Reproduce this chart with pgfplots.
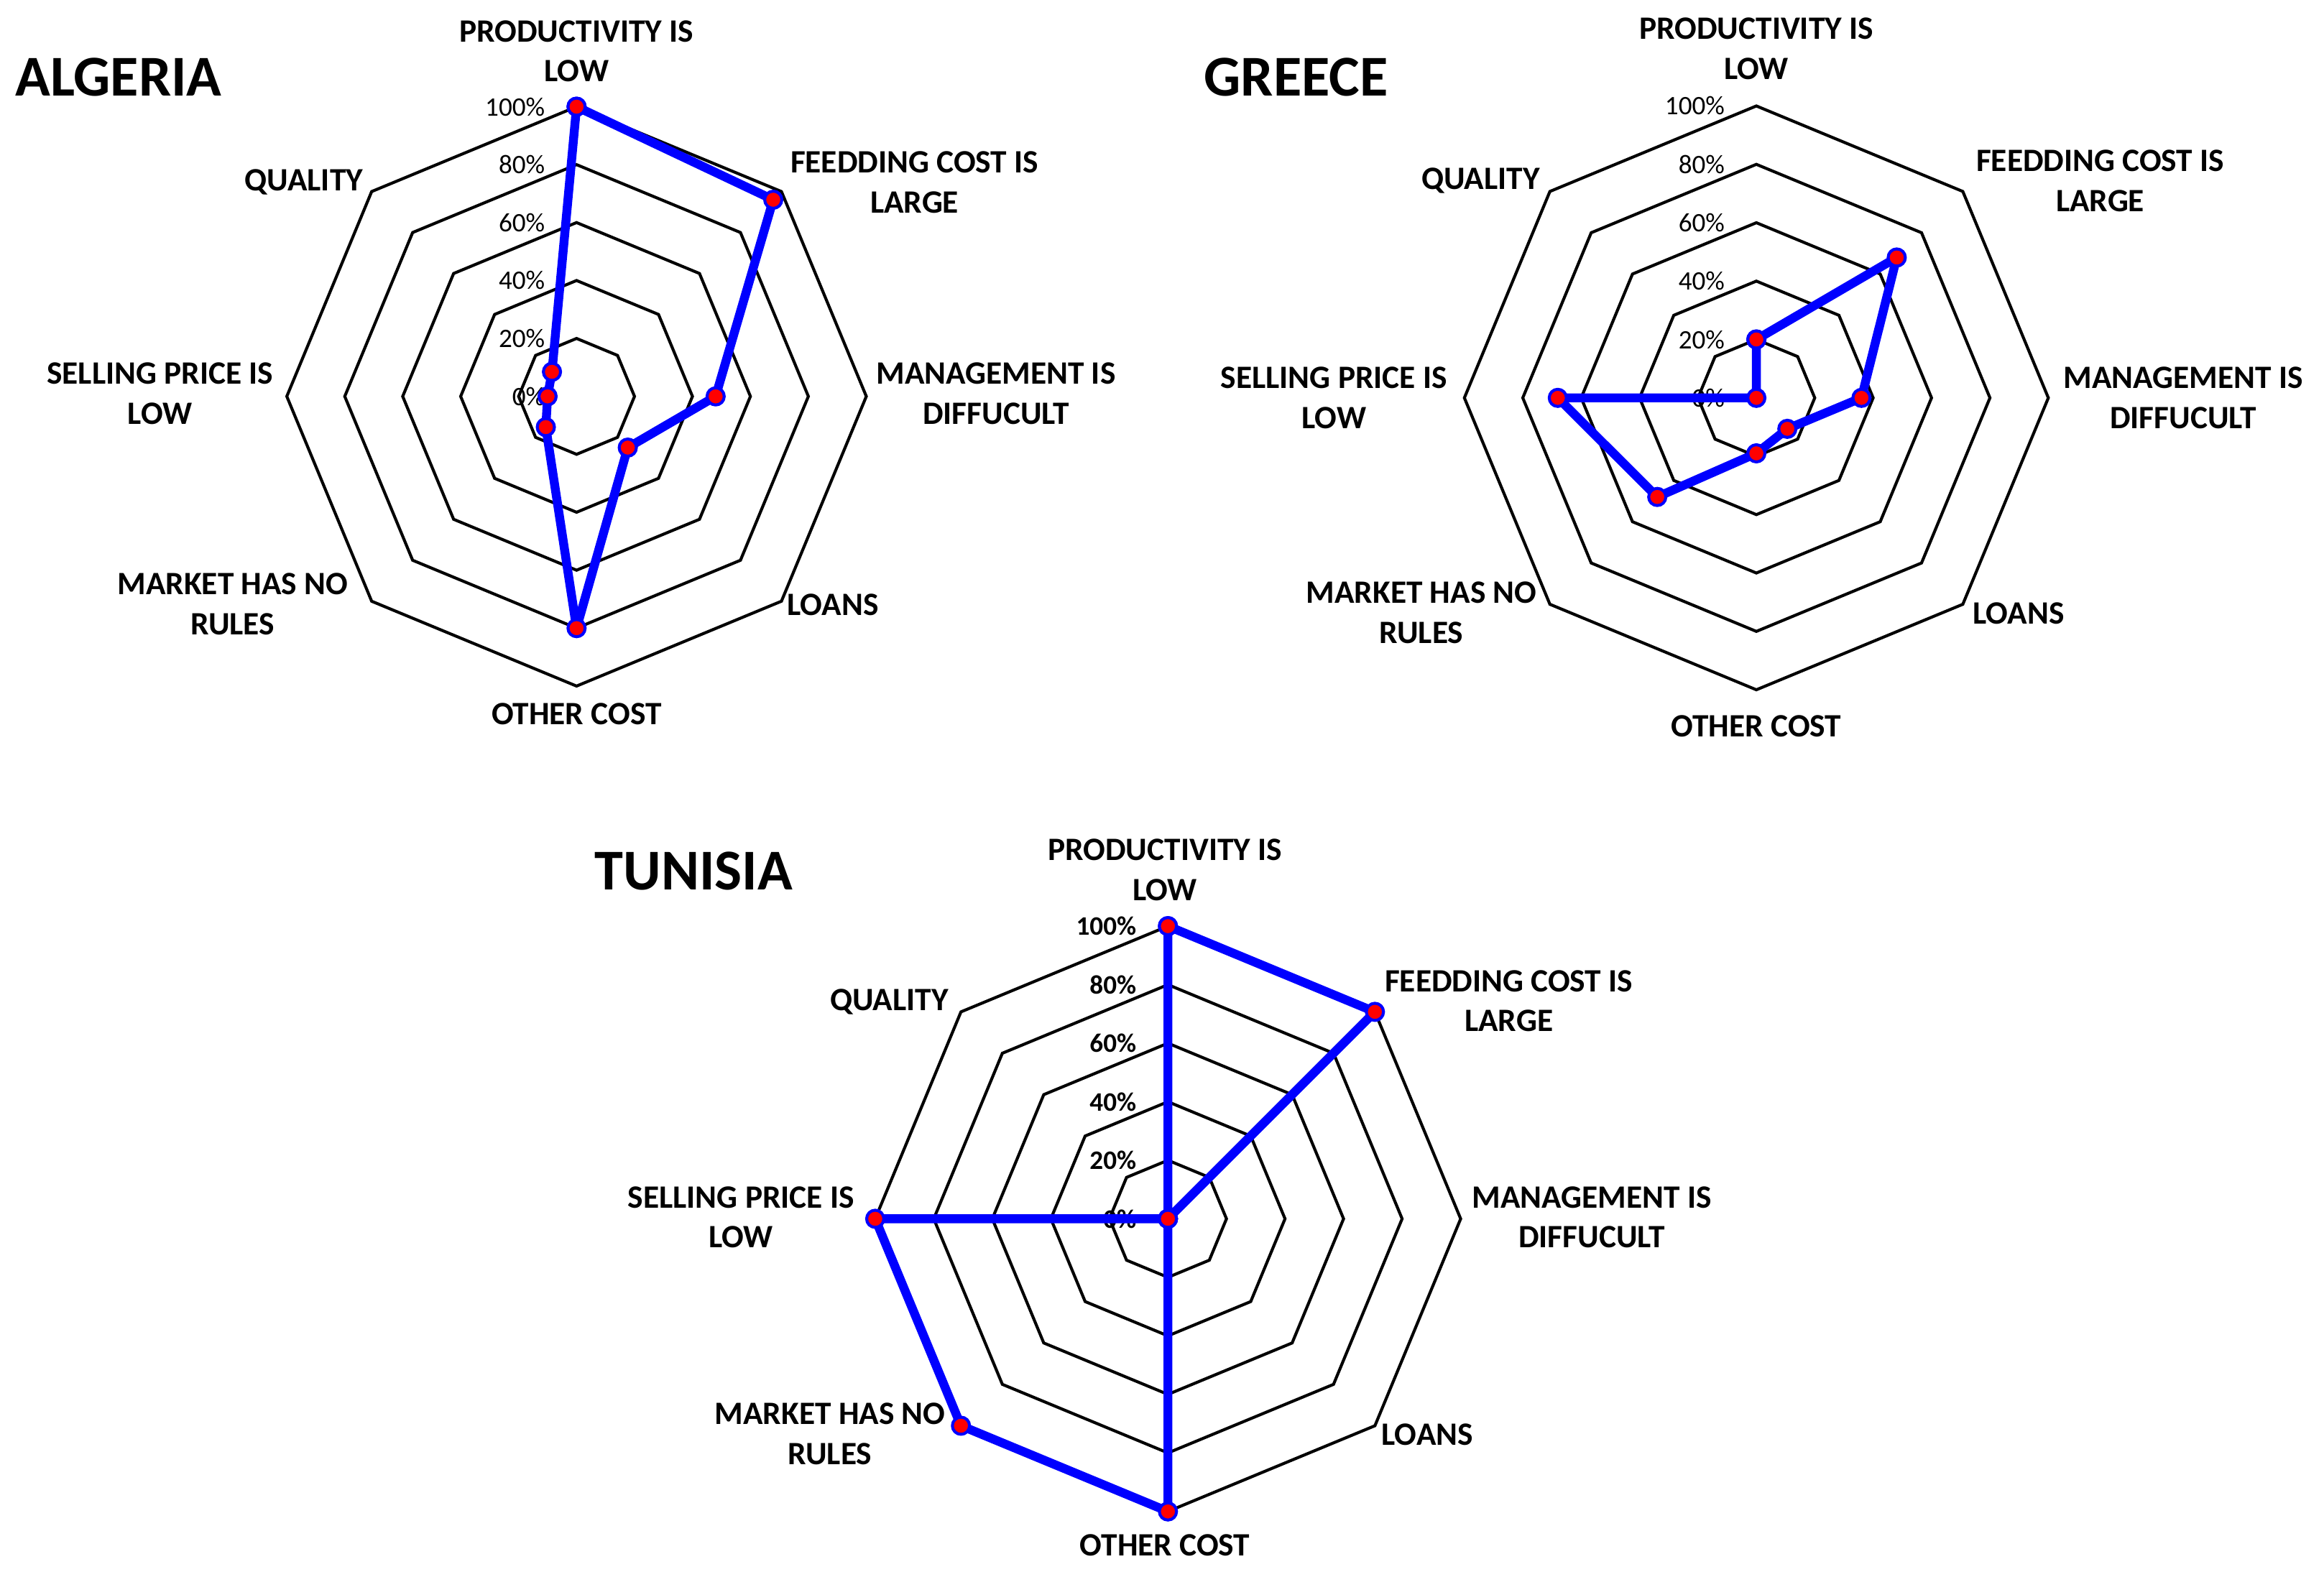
\documentclass[border=0pt]{standalone}
\usepackage{pgfplots}
\pgfplotsset{compat=1.18}
\usepackage{fontspec}
\setmainfont{Carlito}

\pgfplotsset{
  radar/.style={hide axis, scale only axis, width=#1, height=#1,
    xmin=-100,xmax=100,ymin=-100,ymax=100, clip=false, anchor=center},
  gridoct/.style={black, line width=1pt, no marks, line join=miter},
  dataline/.style={blue, line width=3pt, line join=round, mark=*,
    mark options={fill=red, draw=blue, line width=1pt, solid}, mark size=2.9pt},
}
\tikzset{ticklab/.style={anchor=east, inner sep=0pt, xshift=-10.5pt, font=\fontsize{9}{10}\selectfont}}

\newcommand\octgrid{%
  \pgfplotsinvokeforeach{20,40,60,80,100}{%
    \addplot[gridoct, data cs=polar] coordinates {(90,##1)(45,##1)(0,##1)(-45,##1)(-90,##1)(-135,##1)(180,##1)(135,##1)(90,##1)(45,##1)};
  }%
}
\newcommand\ticklabs{%
  \pgfplotsinvokeforeach{0,20,40,60,80,100}{%
    \node[ticklab] at (axis cs:0,##1) {##1\%};
  }%
}

\begin{document}
\begin{tikzpicture}
% ---------- ALGERIA ----------
\begin{axis}[radar=195.5pt, at={(194.5pt,-133.75pt)}]
\octgrid
\ticklabs
\addplot[dataline, data cs=polar] coordinates {
 (90,100) (45,96) (0,48) (-45,25) (-90,80) (-135,15) (180,10) (135,12) (90,100)};
\end{axis}
% ---------- GREECE ----------
\begin{axis}[radar=197pt, at={(592.5pt,-134.25pt)}]
\octgrid
\ticklabs
\addplot[dataline, data cs=polar] coordinates {
 (90,20) (45,68) (0,36) (-45,15) (-90,19) (-135,48) (180,68) (135,0) (90,20)};
\end{axis}
% ---------- TUNISIA ----------
\begin{axis}[radar=197.5pt, at={(394pt,-411.25pt)}]
\tikzset{ticklab/.append style={font=\bfseries\fontsize{9}{10}\selectfont}}
\octgrid
\ticklabs
\addplot[dataline, data cs=polar] coordinates {
 (90,100) (45,100) (0,0) (-45,0) (-90,100) (-135,100) (180,100) (135,0) (90,100)};
\end{axis}

\begin{scope}[x=0.5pt, y=-0.5pt,
  lab/.style={font=\bfseries\fontsize{11}{13.5}\selectfont, align=center, inner sep=0pt},
  ttl/.style={font=\bfseries\fontsize{19.5}{22}\selectfont, anchor=west, inner sep=0pt}]
% Algeria
\node[ttl] at (10,52) {ALGERIA};
\node[lab] at (389,34.5) {PRODUCTIVITY IS\\LOW};
\node[lab] at (617,123) {FEEDDING COST IS\\LARGE};
\node[lab] at (672,265.5) {MANAGEMENT IS\\DIFFUCULT};
\node[lab] at (562,408) {LOANS};
\node[lab] at (389,482) {OTHER COST};
\node[lab] at (157,407.5) {MARKET HAS NO\\RULES};
\node[lab] at (108,265.5) {SELLING PRICE IS\\LOW};
\node[lab] at (205,123) {QUALITY};
% Greece
\node[ttl] at (812,52) {GREECE};
\node[lab] at (1185,33) {PRODUCTIVITY IS\\LOW};
\node[lab] at (1417,122) {FEEDDING COST IS\\LARGE};
\node[lab] at (1473,268.5) {MANAGEMENT IS\\DIFFUCULT};
\node[lab] at (1362,414) {LOANS};
\node[lab] at (1185,490) {OTHER COST};
\node[lab] at (959,413.5) {MARKET HAS NO\\RULES};
\node[lab] at (900,268.5) {SELLING PRICE IS\\LOW};
\node[lab] at (999,122) {QUALITY};
% Tunisia
\node[ttl] at (401,588) {TUNISIA};
\node[lab] at (786,587) {PRODUCTIVITY IS\\LOW};
\node[lab] at (1018,675.5) {FEEDDING COST IS\\LARGE};
\node[lab] at (1074,821.5) {MANAGEMENT IS\\DIFFUCULT};
\node[lab] at (963,968) {LOANS};
\node[lab] at (786,1043) {OTHER COST};
\node[lab] at (560,967.5) {MARKET HAS NO\\RULES};
\node[lab] at (500,821.5) {SELLING PRICE IS\\LOW};
\node[lab] at (600,676) {QUALITY};
\end{scope}

\pgfresetboundingbox
\useasboundingbox (0pt,0pt) rectangle (784pt,-532pt);
\end{tikzpicture}
\end{document}
